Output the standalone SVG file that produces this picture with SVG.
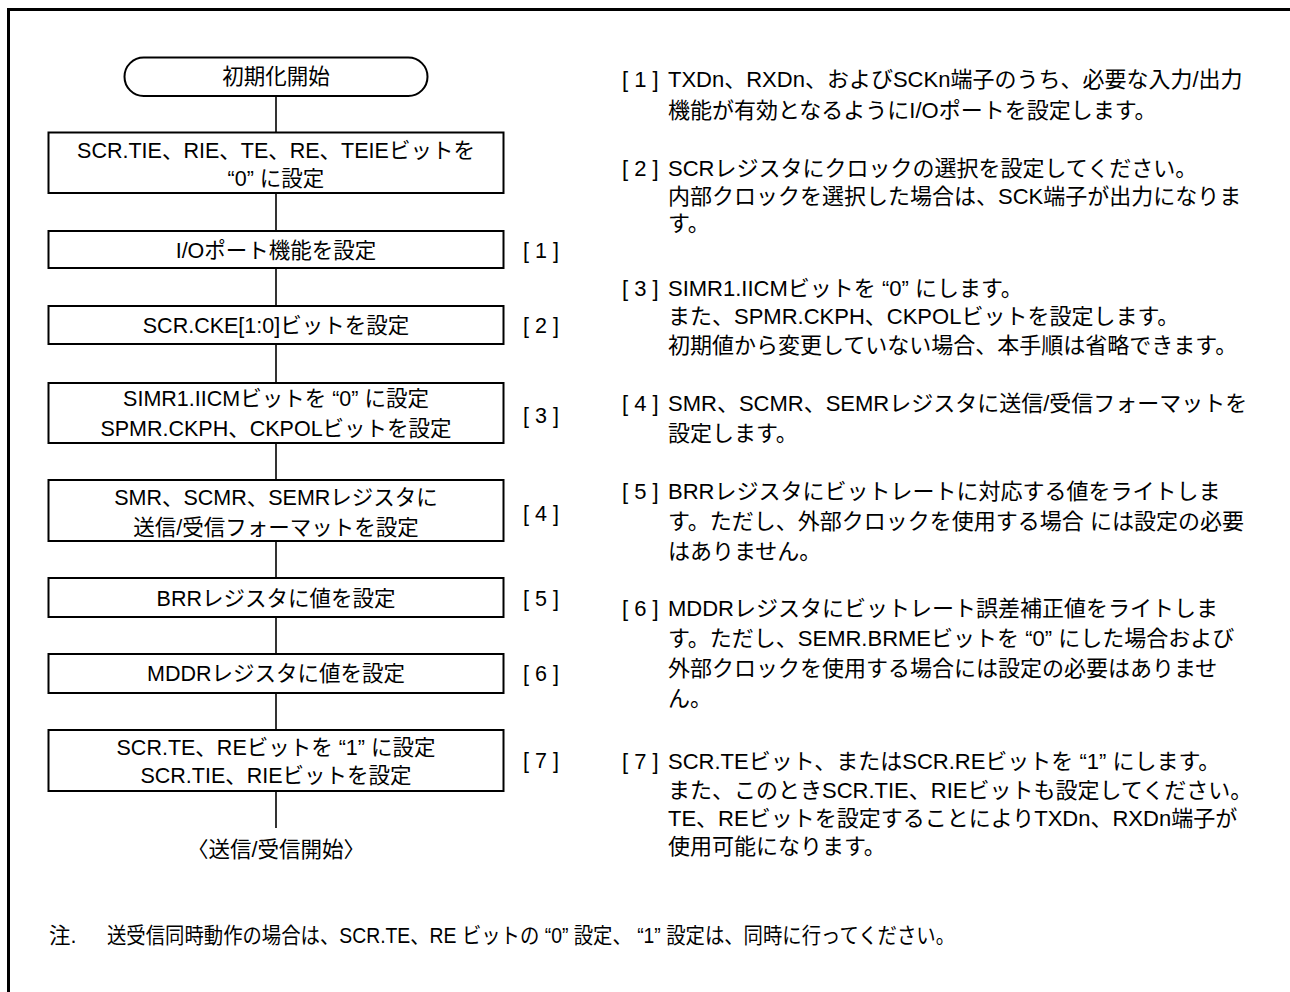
<svg xmlns="http://www.w3.org/2000/svg" width="1290" height="992" viewBox="0 0 1290 992">
<style>
text{font-family:"Liberation Sans","Noto Sans CJK JP",sans-serif;font-size:21.5px;fill:#000}
.c{text-anchor:middle}
.r{font-size:22px}
.box{fill:#fff;stroke:#000;stroke-width:2}
.ln{stroke:#000;stroke-width:1.6;fill:none}
</style>
<rect x="0" y="0" width="1290" height="992" fill="#fff"/>
<path d="M8.5,992 V9.5 H1290" fill="none" stroke="#000" stroke-width="3"/>
<g id="connectors">
<line class="ln" x1="276" y1="96" x2="276" y2="132"/>
<line class="ln" x1="276" y1="193" x2="276" y2="231"/>
<line class="ln" x1="276" y1="268" x2="276" y2="306"/>
<line class="ln" x1="276" y1="344" x2="276" y2="383"/>
<line class="ln" x1="276" y1="443" x2="276" y2="480"/>
<line class="ln" x1="276" y1="541" x2="276" y2="578"/>
<line class="ln" x1="276" y1="617" x2="276" y2="654"/>
<line class="ln" x1="276" y1="693" x2="276" y2="730"/>
<line class="ln" x1="276" y1="791" x2="276" y2="828"/>
</g>
<g id="start">
<rect class="box" x="124.5" y="57.5" width="303" height="38.5" rx="19.25"/>
<text class="c" x="276" y="84">初期化開始</text>
</g>
<g id="step0">
<rect class="box" x="48.5" y="132.5" width="455" height="60.5"/>
<text class="c" x="276" y="157.5">SCR.TIE、RIE、TE、RE、TEIEビットを</text>
<text class="c" x="276" y="186">“0” に設定</text>
</g>
<g id="step1">
<rect class="box" x="48.5" y="231" width="455" height="37"/>
<text class="c" x="276" y="257.5">I/Oポート機能を設定</text>
<text class="c" x="541" y="257.5">[ 1 ]</text>
</g>
<g id="step2">
<rect class="box" x="48.5" y="306" width="455" height="38"/>
<text class="c" x="276" y="332.5">SCR.CKE[1:0]ビットを設定</text>
<text class="c" x="541" y="332.5">[ 2 ]</text>
</g>
<g id="step3">
<rect class="box" x="48.5" y="383" width="455" height="60"/>
<text class="c" x="276" y="405.5">SIMR1.IICMビットを “0” に設定</text>
<text class="c" x="276" y="435.5">SPMR.CKPH、CKPOLビットを設定</text>
<text class="c" x="541" y="422.5">[ 3 ]</text>
</g>
<g id="step4">
<rect class="box" x="48.5" y="480" width="455" height="61"/>
<text class="c" x="276" y="504.5">SMR、SCMR、SEMRレジスタに</text>
<text class="c" x="276" y="534.5">送信/受信フォーマットを設定</text>
<text class="c" x="541" y="520.5">[ 4 ]</text>
</g>
<g id="step5">
<rect class="box" x="48.5" y="578" width="455" height="39"/>
<text class="c" x="276" y="605.5">BRRレジスタに値を設定</text>
<text class="c" x="541" y="605.5">[ 5 ]</text>
</g>
<g id="step6">
<rect class="box" x="48.5" y="654" width="455" height="39"/>
<text class="c" x="276" y="680.5">MDDRレジスタに値を設定</text>
<text class="c" x="541" y="680.5">[ 6 ]</text>
</g>
<g id="step7">
<rect class="box" x="48.5" y="730" width="455" height="61"/>
<text class="c" x="276" y="754.5">SCR.TE、REビットを “1” に設定</text>
<text class="c" x="276" y="782.5">SCR.TIE、RIEビットを設定</text>
<text class="c" x="541" y="767.5">[ 7 ]</text>
</g>
<g id="end">
<text class="c" x="276" y="856.5">〈送信/受信開始〉</text>
</g>
<g id="notes" class="r">
<text class="r" x="622" y="86.5">[ 1 ]</text>
<text class="r" x="668" y="86.5">TXDn、RXDn、およびSCKn端子のうち、必要な入力/出力</text>
<text class="r" x="668" y="117.5">機能が有効となるようにI/Oポートを設定します。</text>
<text class="r" x="622" y="175.5">[ 2 ]</text>
<text class="r" x="668" y="175.5">SCRレジスタにクロックの選択を設定してください。</text>
<text class="r" x="668" y="204">内部クロックを選択した場合は、SCK端子が出力になりま</text>
<text class="r" x="668" y="231">す。</text>
<text class="r" x="622" y="296">[ 3 ]</text>
<text class="r" x="668" y="296">SIMR1.IICMビットを “0” にします。</text>
<text class="r" x="668" y="324">また、SPMR.CKPH、CKPOLビットを設定します。</text>
<text class="r" x="668" y="353">初期値から変更していない場合、本手順は省略できます。</text>
<text class="r" x="622" y="411">[ 4 ]</text>
<text class="r" x="668" y="411">SMR、SCMR、SEMRレジスタに送信/受信フォーマットを</text>
<text class="r" x="668" y="441">設定します。</text>
<text class="r" x="622" y="499">[ 5 ]</text>
<text class="r" x="668" y="499">BRRレジスタにビットレートに対応する値をライトしま</text>
<text class="r" x="668" y="529">す。ただし、外部クロックを使用する場合 には設定の必要</text>
<text class="r" x="668" y="559">はありません。</text>
<text class="r" x="622" y="616">[ 6 ]</text>
<text class="r" x="668" y="616">MDDRレジスタにビットレート誤差補正値をライトしま</text>
<text class="r" x="668" y="646">す。ただし、SEMR.BRMEビットを “0” にした場合および</text>
<text class="r" x="668" y="676">外部クロックを使用する場合には設定の必要はありませ</text>
<text class="r" x="668" y="706">ん。</text>
<text class="r" x="622" y="769">[ 7 ]</text>
<text class="r" x="668" y="769">SCR.TEビット、またはSCR.REビットを “1” にします。</text>
<text class="r" x="668" y="797.5">また、このときSCR.TIE、RIEビットも設定してください。</text>
<text class="r" x="668" y="826">TE、REビットを設定することによりTXDn、RXDn端子が</text>
<text class="r" x="668" y="854">使用可能になります。</text>
</g>
<g id="footnote">
<text x="49" y="943">注.</text>
<text x="107" y="943" textLength="848" lengthAdjust="spacingAndGlyphs">送受信同時動作の場合は、SCR.TE、RE ビットの “0” 設定、 “1” 設定は、同時に行ってください。</text>
</g>
</svg>
